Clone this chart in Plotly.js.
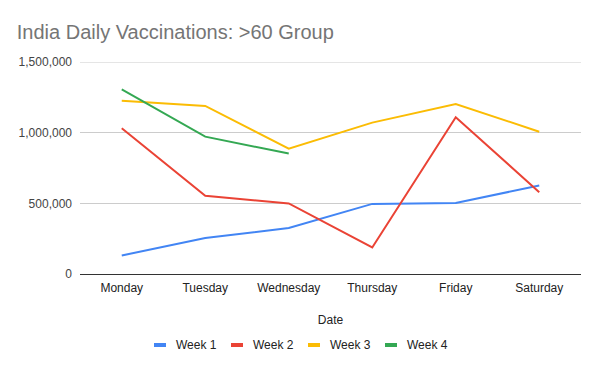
<!DOCTYPE html>
<html>
<head>
<meta charset="utf-8">
<script src="https://cdn.plot.ly/plotly-3.0.1.min.js"></script>
<style>html,body{margin:0;padding:0;background:#fff;}#chart{width:600px;height:371px;}</style>
</head>
<body>
<div id="chart"></div>
<script>
const days = ["Monday", "Tuesday", "Wednesday", "Thursday", "Friday", "Saturday"];
const seriesNames = ["Week 1", "Week 2", "Week 3", "Week 4"];
const week1 = [131000, 254000, 325000, 496000, 503000, 626000];
const week2 = [1031000, 553000, 499000, 188000, 1109000, 579000];
const week3 = [1226000, 1189000, 887000, 1071000, 1203000, 1007000];
const week4 = [1306000, 972000, 852000];
const colors = ["#4285F4", "#EA4335", "#FBBC04", "#34A853"];
const yTicks = [0, 500000, 1000000, 1500000];

const allSeries = [week1, week2, week3, week4];
const font = "Arial, 'Liberation Sans', sans-serif";

// plot area in pixels
const W = 600, H = 371, L = 80, R = 19, T = 62, B = 97;
const pw = W - L - R, ph = H - T - B;
const px2x = p => (p - L) / pw;
const py2y = p => (H - B - p) / ph;

const traces = allSeries.map((vals, i) => ({
  type: "scatter", mode: "lines",
  x: days.slice(0, vals.length), y: vals,
  name: seriesNames[i],
  line: {color: colors[i], width: 2},
  showlegend: false, hoverinfo: "x+y+name"
}));

const shapes = [], annotations = [];
// top gridline (Plotly skips a gridline sitting exactly on the plot edge)
const yMax = yTicks[yTicks.length - 1];
shapes.push({type: "line", xref: "paper", yref: "y", x0: 0, x1: 1, y0: yMax, y1: yMax,
  line: {color: "#cccccc", width: 1}, layer: "below"});

// custom legend (small swatch + label), centred below the axis title
const legendY = 345, swatchW = 12, swatchGap = 8, itemStep = 77, legendStart = 154;
seriesNames.forEach((nm, i) => {
  const x0 = legendStart + i * itemStep;
  shapes.push({type: "rect", xref: "paper", yref: "paper",
    x0: px2x(x0), x1: px2x(x0 + swatchW), y0: py2y(legendY + 2), y1: py2y(legendY - 2),
    fillcolor: colors[i], line: {width: 0}});
  annotations.push({xref: "paper", yref: "paper", x: px2x(x0 + swatchW + swatchGap), y: py2y(legendY),
    xanchor: "left", yanchor: "middle", showarrow: false, text: nm,
    font: {family: font, size: 12, color: "#222"}});
});

const layout = {
  width: W, height: H,
  paper_bgcolor: "#fff", plot_bgcolor: "#fff",
  margin: {l: L, r: R, t: T, b: B},
  font: {family: font, size: 12, color: "#222"},
  title: {text: "India Daily Vaccinations: >60 Group", x: 0.028, xanchor: "left", y: 0.915, yanchor: "middle",
          font: {family: font, size: 20, color: "#757575"}},
  xaxis: {
    type: "category", categoryarray: days, range: [-0.5, 5.5],
    showgrid: false, zeroline: false, showline: false, ticks: "",
    ticklabelstandoff: 5,
    tickfont: {family: font, size: 12, color: "#222"},
    title: {text: "Date", font: {family: font, size: 12, color: "#222"}, standoff: 21}
  },
  yaxis: {
    range: [0, yMax], tickvals: yTicks, tickformat: ",d",
    showgrid: true, gridcolor: "#cccccc", gridwidth: 1,
    zeroline: true, zerolinecolor: "#333333", zerolinewidth: 1,
    showline: false, ticks: "", ticklabelstandoff: 7,
    tickfont: {family: font, size: 12, color: "#444"}
  },
  shapes: shapes,
  annotations: annotations,
  showlegend: false
};
Plotly.newPlot("chart", traces, layout, {displayModeBar: false, responsive: false});
</script>
</body>
</html>
